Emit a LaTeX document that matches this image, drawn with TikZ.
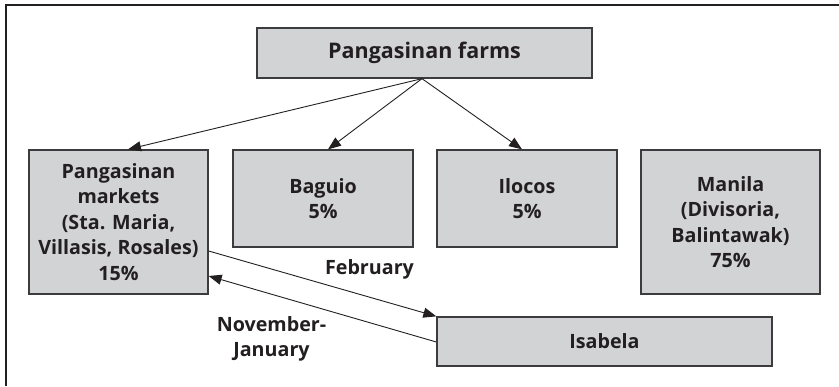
\documentclass[tikz,border=0pt]{standalone}
\usepackage{fontspec}
\setmainfont{Open Sans}
\usetikzlibrary{arrows.meta}
\definecolor{boxfill}{RGB}{210,211,213}
\definecolor{boxline}{RGB}{60,60,62}
\definecolor{ink}{RGB}{35,31,32}
\tikzset{
  flowbox/.style={draw=boxline, line width=1.3pt, fill=boxfill, text=ink,
    align=center, inner sep=0pt, font=\fontsize{19.7}{25.5}\selectfont\bfseries},
  flow/.style={draw=ink, line width=0.9pt, -{Triangle[length=13pt,width=10pt]}},
  monthlabel/.style={text=ink, align=center, inner sep=0pt,
    font=\fontsize{19.7}{25.5}\selectfont\bfseries}
}
\begin{document}
\begin{tikzpicture}[x=1pt, y=-1pt]
  \useasboundingbox (0,0) rectangle (839,386);
  % frame (top and left edges)
  \draw[ink, line width=2pt] (5.7,386) -- (5.7,5) -- (839,5);

  \node[flowbox, minimum width=335pt, minimum height=50pt,
        font=\fontsize{21.5}{28}\selectfont\bfseries] (farms) at (424.5,53) {Pangasinan farms};
  \node[flowbox, minimum width=179pt, minimum height=144pt] (mkt) at (118.5,222)
    {Pangasinan\\markets\\(Sta. Maria,\\Villasis, Rosales)\\15\%};
  \node[flowbox, minimum width=180pt, minimum height=97pt] (bag) at (323,198.5)
    {Baguio\\5\%};
  \node[flowbox, minimum width=180pt, minimum height=97pt] (ilo) at (527,198.5)
    {Ilocos\\5\%};
  \node[flowbox, minimum width=179pt, minimum height=144pt] (mnl) at (730.5,222)
    {Manila\\(Divisoria,\\Balintawak)\\75\%};
  \node[flowbox, minimum width=335pt, minimum height=49pt] (isa) at (604.5,341.5)
    {Isabela};

  \coordinate (src) at ([xshift=-2.5pt]farms.south);
  \draw[flow] (src) -- ([xshift=9.5pt]mkt.north);
  \draw[flow] (src) -- ([xshift=5pt]bag.north);
  \draw[flow] (src) -- ([xshift=-5pt]ilo.north);

  \draw[flow] ([yshift=-29pt]mkt.east) -- (isa.north west);
  \draw[flow] ([yshift=-0.5pt]isa.west) -- ([yshift=-54pt]mkt.east);

  \node[monthlabel, anchor=base] (feb) at (369.5,274) {February};
  \node[monthlabel] (nov) at (271.5,339) {November-\\January};
\end{tikzpicture}
\end{document}
